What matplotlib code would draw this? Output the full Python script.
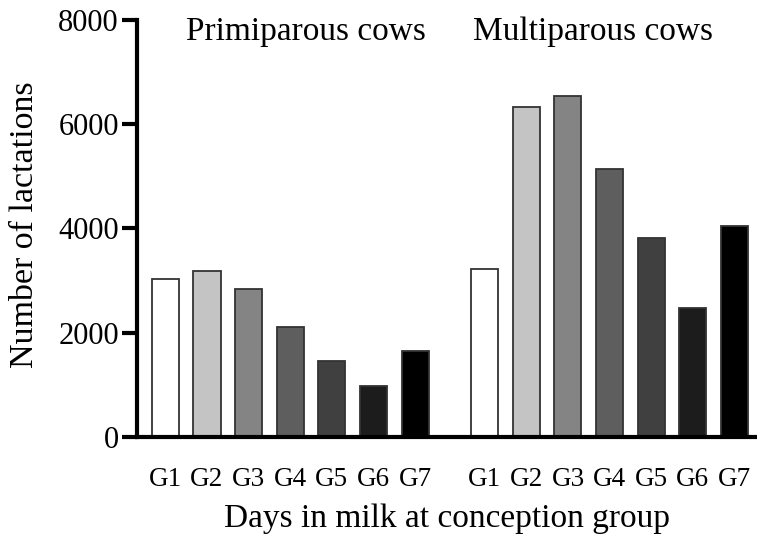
import matplotlib
matplotlib.use("Agg")
import matplotlib.pyplot as plt
import numpy as np

groups = ["G1", "G2", "G3", "G4", "G5", "G6", "G7"]
primiparous = [3030, 3190, 2830, 2100, 1450, 970, 1640]
multiparous = [3220, 6320, 6530, 5130, 3810, 2480, 4040]
colors = ["#ffffff", "#c4c4c4", "#848484", "#5e5e5e", "#404040", "#1c1c1c", "#000000"]
yticks = [0, 2000, 4000, 6000, 8000]

plt.rcParams['font.family'] = ['Liberation Serif', 'DejaVu Serif']

fig = plt.figure(figsize=(7.57, 5.36), dpi=100)
ax = fig.add_axes([0.181, 0.185, 0.819, 0.778])

gap = 1.67
x1 = np.arange(len(groups))
x2 = x1 + len(groups) - 1 + gap
w = 0.65
ax.bar(x1, primiparous, width=w, color=colors, edgecolor="#333333", linewidth=1.3)
ax.bar(x2, multiparous, width=w, color=colors, edgecolor="#333333", linewidth=1.3)

ax.set_xlim(-0.68, x2[-1] + 0.54)
ax.set_ylim(0, 8000)
ax.set_yticks(yticks)
ax.set_yticklabels([str(v) for v in yticks], fontsize=22)
ax.set_xticks(np.concatenate([x1, x2]))
ax.set_xticklabels(groups + groups, fontsize=19.5)
ax.tick_params(axis='x', length=0, pad=22)
ax.tick_params(axis='y', length=11, width=3, pad=2)

for s in ["top", "right"]:
    ax.spines[s].set_visible(False)
for s in ["left", "bottom"]:
    ax.spines[s].set_linewidth(3)

ax.set_ylabel("Number of lactations", fontsize=24.5)
ax.yaxis.set_label_coords(-0.157, 0.508)
ax.set_xlabel("Days in milk at conception group", fontsize=24, labelpad=8)

ax.text(3.37, 7620, "Primiparous cows", ha="center", va="baseline", fontsize=24)
ax.text(10.28, 7620, "Multiparous cows", ha="center", va="baseline", fontsize=24)

fig.savefig("out.png", dpi=100)
